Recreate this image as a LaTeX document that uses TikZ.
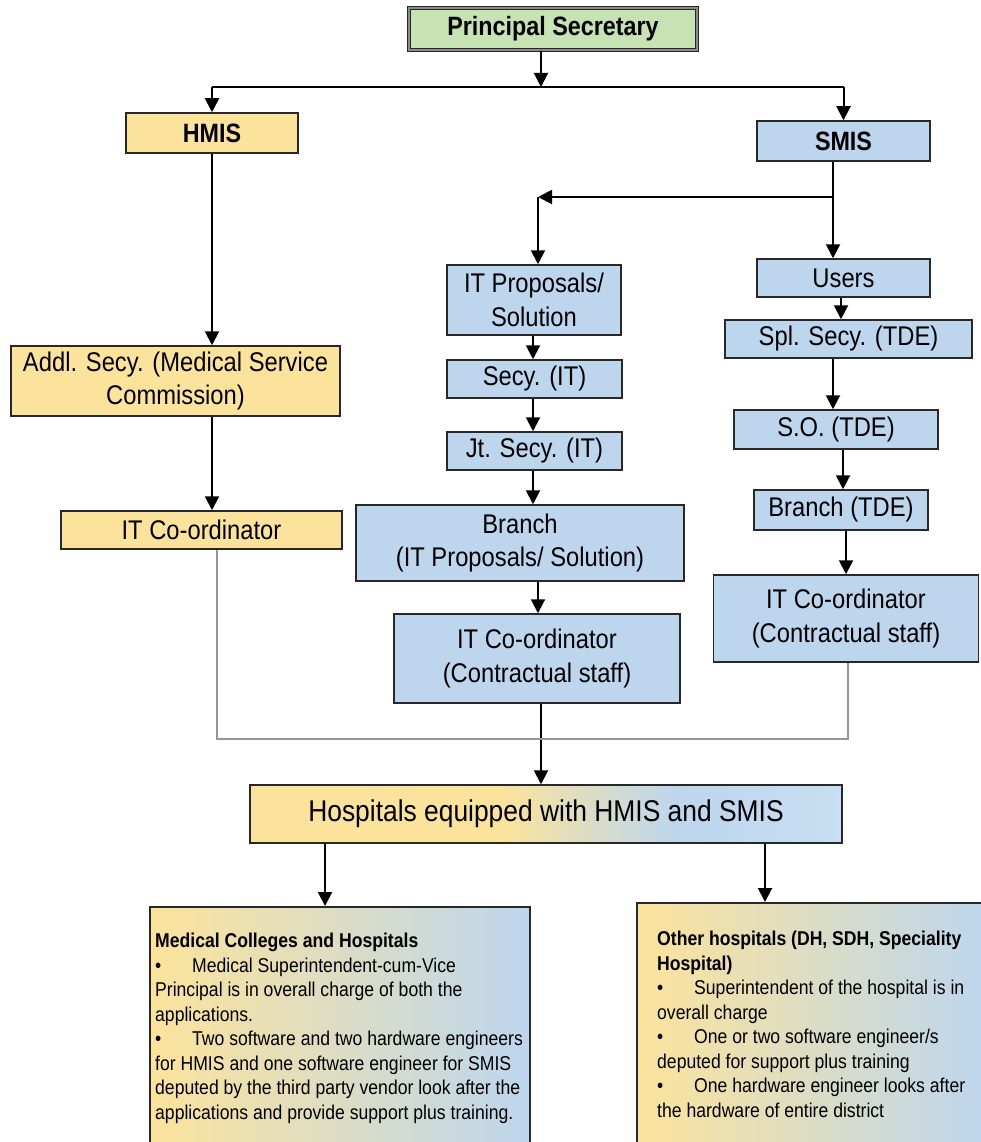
\documentclass[tikz,border=0pt]{standalone}
\usepackage{fontspec}
\setmainfont{Liberation Sans}[FakeStretch=0.88]
\usetikzlibrary{arrows.meta}
\definecolor{yel}{RGB}{252,227,155}
\definecolor{blu}{RGB}{189,214,238}
\definecolor{blu2}{RGB}{200,222,242}
\definecolor{grn}{RGB}{199,227,180}
\definecolor{bord}{RGB}{40,40,40}
\definecolor{gln}{RGB}{150,150,150}
\pgfdeclarehorizontalshading{hospshade}{100bp}{color(0bp)=(yel); color(46bp)=(yel); color(61bp)=(blu); color(75bp)=(blu2); color(100bp)=(blu2)}
\newcommand{\bul}{\makebox[37pt][l]{\textbullet}}
\begin{document}
\begin{tikzpicture}[x=1pt,y=-1pt,
  bx/.style={draw=bord, line width=1.5pt, inner sep=0pt, align=center, font=\fontsize{27}{33.5}\selectfont},
  bxb/.style={bx, font=\fontsize{26.5}{30}\selectfont\bfseries},
  yb/.style={fill=yel},
  bb/.style={fill=blu},
  arr/.style={draw=black, line width=2pt, -{Triangle[width=14pt,length=14pt]}},
  ln/.style={draw=black, line width=1.6pt},
  gline/.style={draw=gln, line width=1.6pt},
  txt/.style={anchor=north west, align=left, inner sep=0pt, font=\fontsize{20}{24.5}\selectfont}]
\fill[white] (0,0) rectangle (980,1142);
\useasboundingbox (0,0) rectangle (980,1142);

% nodes
\node[bxb, fill=grn, draw=black!85, line width=1.4pt, double=black!45, double distance=1.2pt,
      minimum width=288pt, minimum height=42pt] (ps) at (553,29) {Principal Secretary};
\node[bxb, yb, minimum width=172pt, minimum height=40pt] (hmis) at (212,133) {HMIS};
\node[bxb, bb, minimum width=173pt, minimum height=40pt] (smis) at (843.5,141) {SMIS};

\node[bx, yb, minimum width=329pt, minimum height=70pt] (addl) at (175.5,381) {Addl. Secy. (Medical Service\\Commission)};
\node[bx, yb, minimum width=281pt, minimum height=38pt] (itl) at (201.5,530) {IT Co-ordinator};

\node[bx, bb, minimum width=174pt, minimum height=70pt] (itp) at (534,300) {IT Proposals/\\Solution};
\node[bx, bb, minimum width=175pt, minimum height=38pt] (secit) at (534.5,379) {Secy. (IT)};
\node[bx, bb, minimum width=175pt, minimum height=38pt] (jtit) at (534.5,451) {Jt. Secy. (IT)};
\node[bx, bb, minimum width=328pt, minimum height=76pt] (brit) at (520,543) {Branch\\(IT Proposals/ Solution)};
\node[bx, bb, minimum width=286pt, minimum height=89pt] (itm) at (537,658.5) {IT Co-ordinator\\(Contractual staff)};

\node[bx, bb, minimum width=173pt, minimum height=38pt] (users) at (843.5,278) {Users};
\node[bx, bb, minimum width=247pt, minimum height=38pt] (spl) at (848.5,339) {Spl. Secy. (TDE)};
\node[bx, bb, minimum width=204pt, minimum height=39pt] (so) at (836,429.5) {S.O. (TDE)};
\node[bx, bb, minimum width=174pt, minimum height=40pt] (brt) at (841,510) {Branch (TDE)};
\node[bx, bb, minimum width=265pt, minimum height=87pt] (itr) at (846,618.5) {IT Co-ordinator\\(Contractual staff)};

\node[bx, shading=hospshade, minimum width=592pt, minimum height=58pt, font=\fontsize{30}{34}\selectfont] (hosp) at (546,814) {Hospitals equipped with HMIS and SMIS};

\node[bx, left color=yel, right color=blu, anchor=north west, minimum width=380pt, minimum height=250pt] (mc) at (149,906) {};
\node[bx, left color=yel, right color=blu, anchor=north west, minimum width=350pt, minimum height=254pt] (oh) at (636,902) {};

\node[txt] (mct) at (155,933) {\textbf{Medical Colleges and Hospitals}\\
\bul Medical Superintendent-cum-Vice\\
Principal is in overall charge of both the\\
applications.\\
\bul Two software and two hardware engineers\\
for HMIS and one software engineer for SMIS\\
deputed by the third party vendor look after the\\
applications and provide support plus training.};

\node[txt] (oht) at (657,931) {\textbf{Other hospitals (DH, SDH, Speciality}\\
\textbf{Hospital)}\\
\bul Superintendent of the hospital is in\\
overall charge\\
\bul One or two software engineer/s\\
deputed for support plus training\\
\bul One hardware engineer looks after\\
the hardware of entire district};

% connectors
\coordinate (split) at (541,87);
\draw[arr] (ps.south -| split) -- (split);
\draw[ln] (hmis.north |- split) -- (smis.north |- split);
\draw[arr] (hmis.north |- split) -- (hmis.north);
\draw[arr] (smis.north |- split) -- (smis.north);

\draw[arr] (hmis.south) -- (hmis.south |- addl.north);
\draw[arr] (hmis.south |- addl.south) -- (hmis.south |- itl.north);

\coordinate (sb) at (833,197);
\coordinate (pb) at (538,197);
\draw[arr] (smis.south -| sb) -- (users.north -| sb);
\draw[arr] (sb) -- (pb);
\draw[arr] (pb) -- (itp.north -| pb);

\coordinate (c1) at (841,0);
\coordinate (c2) at (833,0);
\coordinate (c3) at (843,0);
\coordinate (c4) at (846,0);
\draw[arr] (users.south -| c1) -- (spl.north -| c1);
\draw[arr] (spl.south -| c2) -- (so.north -| c2);
\draw[arr] (so.south -| c3) -- (brt.north -| c3);
\draw[arr] (brt.south -| c4) -- (itr.north -| c4);

\coordinate (m1) at (533,0);
\coordinate (m2) at (538,0);
\coordinate (m3) at (541,0);
\draw[arr] (itp.south -| m1) -- (secit.north -| m1);
\draw[arr] (secit.south -| m1) -- (jtit.north -| m1);
\draw[arr] (jtit.south -| m1) -- (brit.north -| m1);
\draw[arr] (brit.south -| m2) -- (itm.north -| m2);
\draw[arr] (itm.south -| m3) -- (hosp.north -| m3);

\coordinate (gl) at (217,739);
\coordinate (gr) at (848,739);
\draw[gline] (itl.south -| gl) -- (gl) -- (gr) -- (itr.south -| gr);

\coordinate (h1) at (325,0);
\coordinate (h2) at (765,0);
\draw[arr] (hosp.south -| h1) -- (mc.north -| h1);
\draw[arr] (hosp.south -| h2) -- (oh.north -| h2);
\end{tikzpicture}
\end{document}
